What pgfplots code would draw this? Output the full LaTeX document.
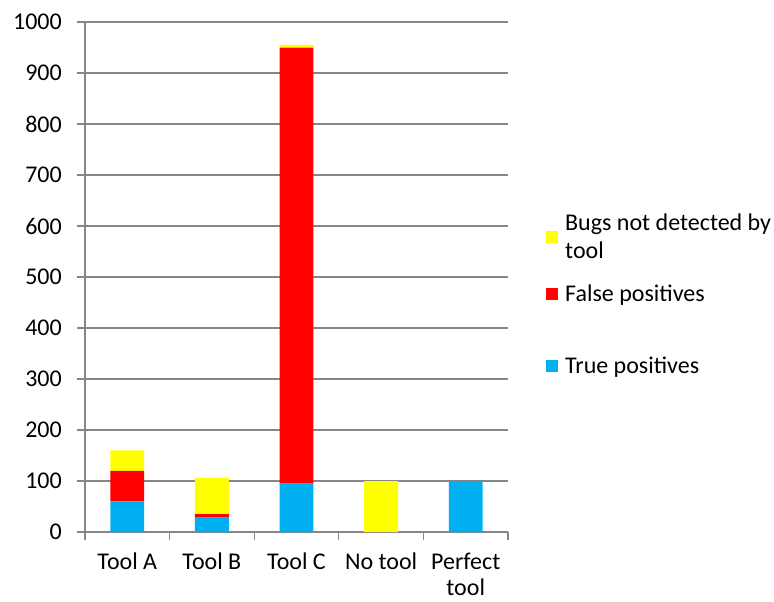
\documentclass[border=0pt]{standalone}
\usepackage{fontspec}
\setmainfont{Carlito}
\usepackage{pgfplots}
\pgfplotsset{compat=1.18}
\definecolor{tp}{HTML}{00B0F0}
\definecolor{fp}{HTML}{FF0000}
\definecolor{nd}{HTML}{FFFF00}
\definecolor{axc}{HTML}{868686}
\begin{document}
\begin{tikzpicture}
\path[use as bounding box] (0,0) rectangle (774bp,-602bp);
\begin{axis}[
  at={(85bp,-532bp)}, anchor=south west,
  scale only axis, width=423bp, height=510bp,
  xmin=-0.5, xmax=4.5, ymin=0, ymax=1000,
  ybar stacked, bar width=0.4,
  axis x line*=bottom, axis y line*=left,
  axis line style={axc, line width=1.3bp},
  ytick={0,100,...,1000},
  ymajorgrids, grid style={axc, line width=1.3bp},
  xtick={0,1,2,3,4},
  xticklabels={Tool A, Tool B, Tool C, No tool, {Perfect\\tool}},
  minor xtick={-0.5,0.5,1.5,2.5,3.5,4.5},
  major x tick style={draw=none},
  minor x tick style={axc, line width=1.3bp},
  ytick style={axc, line width=1.3bp},
  tick align=outside, major tick length=8bp, minor tick length=8bp,
  /pgf/number format/assume math mode=true,
  /pgf/number format/1000 sep={},
  tick label style={font=\fontsize{24bp}{26bp}\selectfont, text=black},
  yticklabel style={anchor=east, inner sep=0pt, xshift=-15bp},
  xticklabel style={anchor=north, inner sep=0pt, align=center, yshift=-13bp},
  legend style={draw=none, fill=none, at={(1.0898,0.625)}, anchor=north west,
    font=\fontsize{24bp}{28bp}\selectfont, inner sep=0pt, row sep=25bp,
    column sep=7bp, nodes={inner sep=0pt, align=left}},
  legend cell align=left,
  reverse legend,
  legend image code/.code={\fill[#1,draw=none] (0bp,-6bp) rectangle (12bp,6bp);},
]
\addplot[fill=tp, draw=none] coordinates {(0,60) (1,28) (2,95) (3,0) (4,100)};
\addlegendimage{empty legend}
\addplot[fill=fp, draw=none] coordinates {(0,60) (1,7) (2,855) (3,0) (4,0)};
\addplot[fill=nd, draw=none] coordinates {(0,40) (1,71) (2,5) (3,100) (4,0)};
\legend{True positives, {\rule{0pt}{3bp}}, False positives, {Bugs not detected by\\tool}}
\end{axis}
\end{tikzpicture}
\end{document}
